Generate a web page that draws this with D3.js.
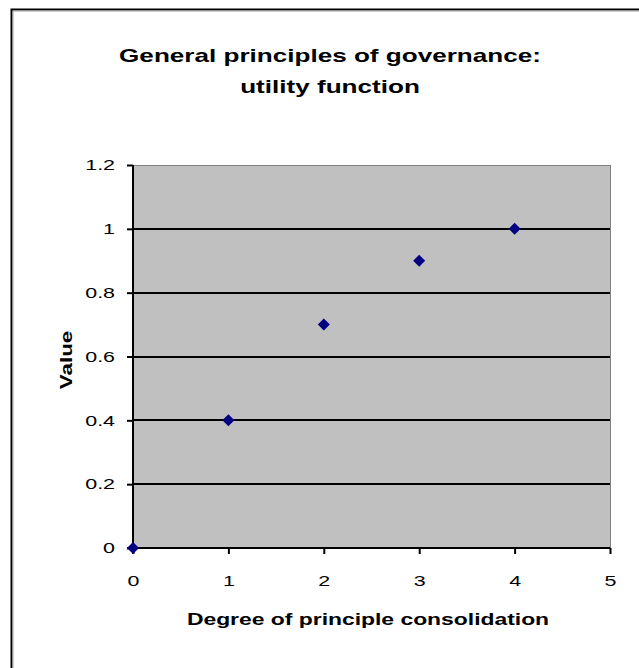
<!DOCTYPE html>
<html>
<head>
<meta charset="utf-8">
<script src="https://cdn.jsdelivr.net/npm/d3@7"></script>
<style>
  body { margin: 0; background: #fff; }
  text { font-family: Arial, "Liberation Sans", sans-serif; }
</style>
</head>
<body>
<div id="chart"></div>
<script>
var degree = [0, 1, 2, 3, 4];
var value = [0, 0.4, 0.7, 0.9, 1];
var xTicks = [0, 1, 2, 3, 4, 5];
var yTicks = [0, 0.2, 0.4, 0.6, 0.8, 1, 1.2];
var titleLines = ["General principles of governance:", "utility function"];

var svgWidth = 639, svgHeight = 668;
var plot = { left: 133, top: 165, right: 610, bottom: 548 };
// the original chart was rendered wide, so text is stretched horizontally
var stretch = 1.43;

var svg = d3.select("#chart").append("svg")
  .attr("width", svgWidth)
  .attr("height", svgHeight);

// outer chart border (runs off the bottom/right)
svg.append("path")
  .attr("d", "M11.5,700 V9.5 H700")
  .attr("fill", "none").attr("stroke", "#000").attr("stroke-width", 2);
svg.append("path")
  .attr("d", "M13,700 V11 H700")
  .attr("fill", "none").attr("stroke", "#a0a0a0").attr("stroke-width", 1);

var x = d3.scaleLinear().domain([0, 5]).range([plot.left, plot.right]);
var y = d3.scaleLinear().domain([0, 1.2]).range([plot.bottom, plot.top]);

// plot area
svg.append("rect")
  .attr("x", plot.left).attr("y", plot.top + 0.5)
  .attr("width", plot.right - plot.left + 0.5).attr("height", plot.bottom - plot.top)
  .attr("fill", "#c0c0c0")
  .attr("stroke", "#808080").attr("stroke-width", 1);

// gridlines
svg.append("g")
  .selectAll("line")
  .data(yTicks.filter(d => d > 0 && d < 1.2))
  .enter().append("line")
  .attr("x1", plot.left).attr("x2", plot.right)
  .attr("y1", d => Math.round(y(d))).attr("y2", d => Math.round(y(d)))
  .attr("stroke", "#000").attr("stroke-width", 2);

// axes
var leftAxis = d3.axisLeft(y).tickValues(yTicks).tickSize(6).tickPadding(12)
  .tickFormat(d3.format("~g"));
var bottomAxis = d3.axisBottom(x).tickValues(xTicks).tickSize(6).tickPadding(21)
  .tickFormat(d3.format("d"));

var gy = svg.append("g").attr("transform", `translate(${plot.left},0)`).call(leftAxis);
var gx = svg.append("g").attr("transform", `translate(0,${plot.bottom})`).call(bottomAxis);

gy.select(".domain").attr("d", `M0,${plot.top}V${plot.bottom + 6}`).attr("stroke-width", 2);
gx.select(".domain").attr("d", `M${plot.left - 6},0H${plot.right}`).attr("stroke-width", 2);
[gx, gy].forEach(g => {
  g.selectAll(".tick line").attr("stroke-width", 2);
  g.selectAll(".tick text")
    .style("font-size", "15px").attr("fill", "#000")
    .attr("transform", function() {
      var tx = +d3.select(this).attr("x") || 0;
      return `translate(${tx},0) scale(${stretch},1) translate(${-tx},0)`;
    });
});

// markers
svg.append("g")
  .selectAll("path")
  .data(degree.map((d, i) => [d, value[i]]))
  .enter().append("path")
  .attr("transform", d => `translate(${x(d[0])},${y(d[1])})`)
  .attr("d", "M0,-6L6,0L0,6L-6,0Z")
  .attr("fill", "#000080");

// title
svg.append("g")
  .selectAll("text")
  .data(titleLines)
  .enter().append("text")
  .attr("transform", (d, i) => `translate(330,${62 + i * 31}) scale(1.45,1)`)
  .attr("text-anchor", "middle")
  .style("font-size", "18px").style("font-weight", "bold")
  .text(d => d);

// axis titles
svg.append("text")
  .attr("transform", `translate(368,625) scale(${stretch},1)`)
  .attr("text-anchor", "middle")
  .style("font-size", "16px").style("font-weight", "bold")
  .text("Degree of principle consolidation");

svg.append("text")
  .attr("transform", "translate(72,360) rotate(-90) scale(1.4,1)")
  .attr("text-anchor", "middle")
  .style("font-size", "16px").style("font-weight", "bold")
  .text("Value");
</script>
</body>
</html>
